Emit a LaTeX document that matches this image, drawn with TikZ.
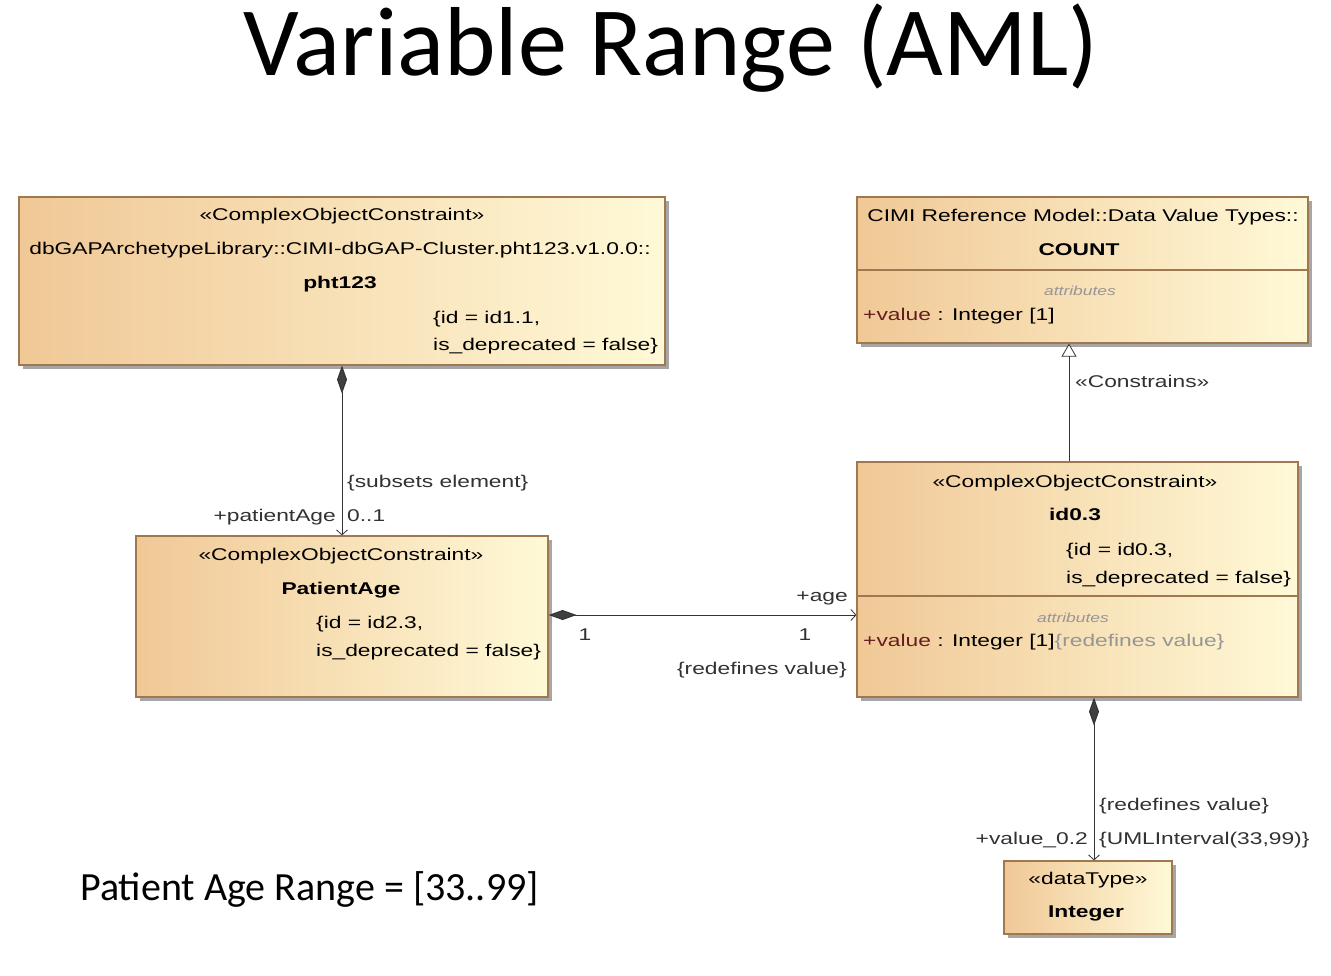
\documentclass[tikz,border=0pt]{standalone}
\usepackage{fontspec}
\setmainfont{Carlito}
\newfontfamily\umlf[FakeStretch=1.34]{Liberation Sans}
\usetikzlibrary{arrows.meta,shadows}
\definecolor{boxL}{RGB}{240,200,150}
\definecolor{boxR}{RGB}{255,249,215}
\definecolor{boxD}{RGB}{160,120,80}
\definecolor{lbl}{RGB}{50,50,50}
\definecolor{attrc}{RGB}{150,150,150}
\definecolor{maroonv}{RGB}{100,30,30}
\tikzset{
  umlbox/.style={draw=boxD, line width=1.2pt, left color=boxL, right color=boxR,
    drop shadow={shadow xshift=4pt, shadow yshift=-4pt, fill=black!35, opacity=1}, inner sep=0pt},
  divider/.style={draw=boxD, line width=1.2pt},
  t/.style={font=\umlf\fontsize{17}{20}\selectfont, inner sep=0pt, text=black},
  tb/.style={font=\umlf\bfseries\fontsize{17}{20}\selectfont, inner sep=0pt, text=black},
  lab/.style={font=\umlf\fontsize{17}{20}\selectfont, inner sep=0pt, text=lbl},
  attrlbl/.style={font=\umlf\itshape\fontsize{13}{15}\selectfont, inner sep=0pt, text=attrc},
  comp/.style={draw=black!80, line width=1pt,
    {Diamond[length=28pt,width=10pt,fill=black!75]}-{Straight Barb[length=5pt,width=11pt,line width=0.8pt]}},
  gen/.style={draw=black!80, line width=1pt, -{Triangle[open,length=13pt,width=15pt,fill=white,line width=0.8pt]}}
}
\begin{document}
\begin{tikzpicture}[x=1pt,y=-1pt]
\useasboundingbox[fill=white] (0,0) rectangle (1331,976);

\node[font=\fontsize{98}{108}\selectfont, anchor=base, inner sep=0pt] (title) at (671,76) {Variable Range (AML)};
\node[font=\fontsize{40}{46}\selectfont, anchor=base west, inner sep=0pt] (range) at (80,900) {Patient Age Range = [33..99]};

% boxes
\node[umlbox, minimum width=646pt, minimum height=168pt] (pht) at (342,281) {};
\node[umlbox, minimum width=451pt, minimum height=146pt] (count) at (1082.5,270) {};
\node[umlbox, minimum width=412pt, minimum height=161pt] (patage) at (342,616.5) {};
\node[umlbox, minimum width=441pt, minimum height=235pt] (id03) at (1077.5,579.5) {};
\node[umlbox, minimum width=168pt, minimum height=73pt] (integer) at (1088,897.5) {};

\draw[divider] (count.west |- 0,270) -- (count.east |- 0,270);
\draw[divider] (id03.west |- 0,596) -- (id03.east |- 0,596);

% pht123 text
\node[t, anchor=base] (pht1) at (342,221) {«ComplexObjectConstraint»};
\node[t, anchor=base] (pht2) at (340,255) {dbGAPArchetypeLibrary::CIMI-dbGAP-Cluster.pht123.v1.0.0::};
\node[tb, anchor=base] (pht3) at (340,289) {pht123};
\node[t, anchor=base west] (pht4) at (433,324) {\{id = id1.1,};
\node[t, anchor=base west] (pht5) at (433,351) {is\_deprecated = false\}};

% COUNT text
\node[t, anchor=base] (cnt1) at (1083,222) {CIMI Reference Model::Data Value Types::};
\node[tb, anchor=base] (cnt2) at (1079,256) {COUNT};
\node[attrlbl, anchor=base] (cnt3) at (1080,296) {attributes};
\node[t, anchor=base west] (cnt4) at (863,321) {\textcolor{maroonv}{+value} : Integer [1]};

% PatientAge text
\node[t, anchor=base] (pa1) at (341,560) {«ComplexObjectConstraint»};
\node[tb, anchor=base] (pa2) at (341,594) {PatientAge};
\node[t, anchor=base west] (pa3) at (316,628) {\{id = id2.3,};
\node[t, anchor=base west] (pa4) at (316,656) {is\_deprecated = false\}};

% id0.3 text
\node[t, anchor=base] (id1) at (1075,487) {«ComplexObjectConstraint»};
\node[tb, anchor=base] (id2) at (1075,520) {id0.3};
\node[t, anchor=base west] (id3) at (1066,555) {\{id = id0.3,};
\node[t, anchor=base west] (id4) at (1066,583) {is\_deprecated = false\}};
\node[attrlbl, anchor=base] (id5) at (1073,622) {attributes};
\node[t, anchor=base west] (id6) at (863,646) {\textcolor{maroonv}{+value} : Integer [1]\textcolor{attrc}{\{redefines value\}}};

% Integer text
\node[t, anchor=base] (in1) at (1088,884) {«dataType»};
\node[tb, anchor=base] (in2) at (1086,917) {Integer};

% connectors
\coordinate (cx1) at (342,0);
\coordinate (cy2) at (0,615);
\coordinate (cx3) at (1069,0);
\coordinate (cx4) at (1094,0);
\draw[comp] (pht.south -| cx1) -- (patage.north -| cx1);
\draw[comp] (patage.east |- cy2) -- (id03.west |- cy2);
\draw[gen] (id03.north -| cx3) -- (count.south -| cx3);
\draw[comp] (id03.south -| cx4) -- (integer.north -| cx4);

% connector labels
\node[lab, anchor=base west] (l1) at (347,487) {\{subsets element\}};
\node[lab, anchor=base east] (l2) at (336,521) {+patientAge};
\node[lab, anchor=base west] (l3) at (347,521) {0..1};
\node[lab, anchor=base east] (l4) at (848,601) {+age};
\node[lab, anchor=base] (l5) at (585,640) {1};
\node[lab, anchor=base] (l6) at (805,640) {1};
\node[lab, anchor=base east] (l7) at (847,674) {\{redefines value\}};
\node[lab, anchor=base west] (l8) at (1075,387) {«Constrains»};
\node[lab, anchor=base west] (l9) at (1099,810) {\{redefines value\}};
\node[lab, anchor=base west] (l10) at (1099,844) {\{UMLInterval(33,99)\}};
\node[lab, anchor=base east] (l11) at (1088,844) {+value\_0.2};
\end{tikzpicture}
\end{document}
